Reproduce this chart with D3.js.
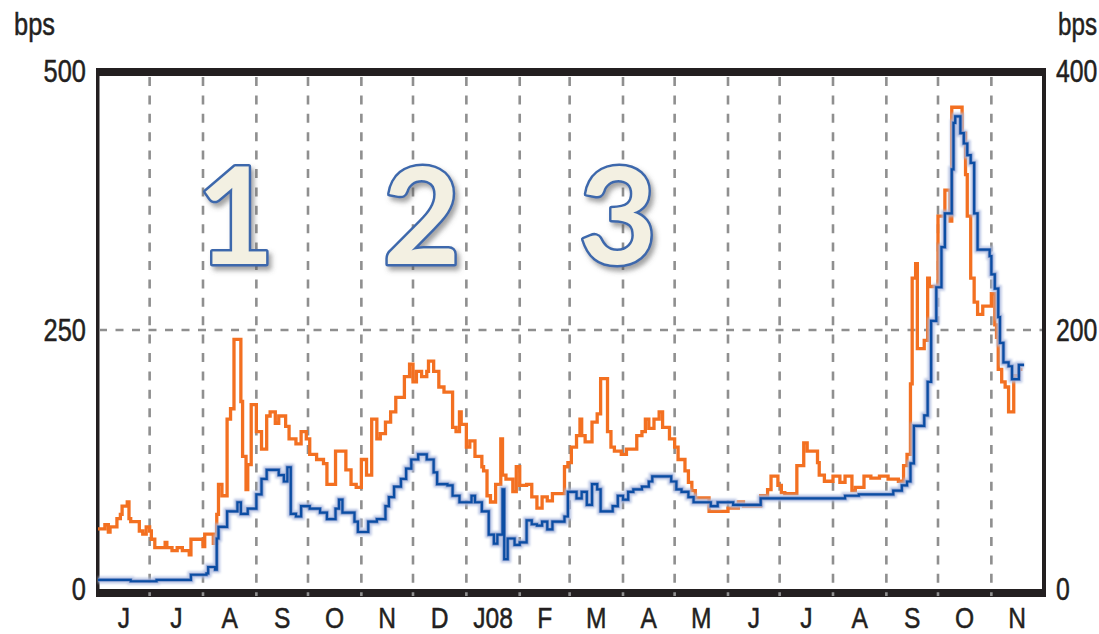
<!DOCTYPE html>
<html><head><meta charset="utf-8">
<script src="https://cdn.jsdelivr.net/npm/d3@7/dist/d3.min.js"></script>
<style>
html,body{margin:0;padding:0;background:#fff;}
svg{display:block;}
</style></head>
<body>
<svg id="chart" width="1099" height="634"></svg>
<script>
// ---------- data ----------
const monthLabels = ["J","J","A","S","O","N","D","J08","F","M","A","M","J","J","A","S","O","N"];
const leftTicks = [0, 250, 500];
const rightTicks = [0, 200, 400];
const leftUnit = "bps";
const rightUnit = "bps";
const panelLabels = ["1", "2", "3"];
const panelDates = ["2007-08-20", "2007-12-06", "2008-03-29"];

// orange series (left axis, bps)
const orangeDates = ["2007-06-01","2007-06-05","2007-06-07","2007-06-08","2007-06-12","2007-06-14","2007-06-15","2007-06-18","2007-06-19","2007-06-20","2007-06-25","2007-06-27","2007-06-29","2007-07-01","2007-07-02","2007-07-04","2007-07-10","2007-07-11","2007-07-14","2007-07-17","2007-07-20","2007-07-24","2007-07-25","2007-08-01","2007-08-02","2007-08-07","2007-08-09","2007-08-10","2007-08-12","2007-08-15","2007-08-17","2007-08-19","2007-08-23","2007-08-24","2007-08-26","2007-08-27","2007-08-29","2007-09-01","2007-09-04","2007-09-07","2007-09-09","2007-09-12","2007-09-14","2007-09-18","2007-09-20","2007-09-24","2007-09-27","2007-09-30","2007-10-02","2007-10-06","2007-10-10","2007-10-12","2007-10-17","2007-10-23","2007-10-26","2007-10-29","2007-11-01","2007-11-04","2007-11-07","2007-11-10","2007-11-12","2007-11-15","2007-11-18","2007-11-21","2007-11-26","2007-11-29","2007-12-01","2007-12-03","2007-12-06","2007-12-09","2007-12-10","2007-12-13","2007-12-16","2007-12-19","2007-12-24","2007-12-26","2007-12-28","2007-12-29","2008-01-01","2008-01-03","2008-01-06","2008-01-10","2008-01-11","2008-01-13","2008-01-15","2008-01-18","2008-01-21","2008-01-22","2008-01-24","2008-01-28","2008-01-30","2008-02-01","2008-02-05","2008-02-08","2008-02-11","2008-02-14","2008-02-17","2008-02-20","2008-02-27","2008-02-29","2008-03-02","2008-03-05","2008-03-07","2008-03-08","2008-03-10","2008-03-14","2008-03-17","2008-03-19","2008-03-23","2008-03-25","2008-03-27","2008-03-31","2008-04-03","2008-04-09","2008-04-12","2008-04-14","2008-04-16","2008-04-19","2008-04-22","2008-04-24","2008-04-28","2008-05-01","2008-05-03","2008-05-07","2008-05-09","2008-05-11","2008-05-13","2008-05-21","2008-06-01","2008-06-07","2008-06-10","2008-06-20","2008-06-24","2008-06-26","2008-06-30","2008-07-02","2008-07-04","2008-07-11","2008-07-15","2008-07-17","2008-07-23","2008-07-24","2008-07-27","2008-08-01","2008-08-05","2008-08-08","2008-08-12","2008-08-14","2008-08-19","2008-08-23","2008-08-28","2008-09-02","2008-09-08","2008-09-11","2008-09-13","2008-09-15","2008-09-16","2008-09-18","2008-09-19","2008-09-23","2008-09-25","2008-09-26","2008-10-01","2008-10-05","2008-10-08","2008-10-09","2008-10-15","2008-10-17","2008-10-18","2008-10-20","2008-10-22","2008-10-24","2008-10-27","2008-11-01","2008-11-03","2008-11-04","2008-11-05","2008-11-07","2008-11-09","2008-11-11","2008-11-14","2008-11-17","2008-11-19"];
const orangeValues = [58,62,55,60,68,72,80,84,68,65,56,53,60,56,48,40,45,40,37,40,37,33,48,41,53,44,72,101,90,164,174,241,181,128,96,120,178,152,135,167,171,160,167,157,145,140,152,145,130,125,121,101,133,115,101,98,125,110,164,145,150,161,171,185,205,217,200,210,205,210,220,210,195,190,156,152,171,159,137,143,128,118,114,90,84,101,145,110,106,94,118,100,101,89,78,89,85,92,118,122,137,148,164,148,142,161,169,203,152,137,133,130,135,148,152,164,155,164,171,156,145,137,125,114,103,95,88,75,78,84,80,90,96,109,100,93,92,119,141,133,122,110,104,109,103,109,95,98,109,107,109,106,104,119,130,198,300,314,232,240,300,292,360,385,355,465,440,400,360,300,277,265,273,285,255,243,212,200,195,171,206,212,212];

// blue series (right axis, bps)
const blueDates = ["2007-06-01","2007-06-20","2007-07-05","2007-07-25","2007-08-03","2007-08-04","2007-08-08","2007-08-09","2007-08-10","2007-08-15","2007-08-21","2007-08-23","2007-08-27","2007-09-01","2007-09-04","2007-09-07","2007-09-14","2007-09-17","2007-09-19","2007-09-21","2007-09-24","2007-09-27","2007-10-02","2007-10-08","2007-10-12","2007-10-17","2007-10-19","2007-10-21","2007-10-28","2007-10-30","2007-11-05","2007-11-10","2007-11-15","2007-11-17","2007-11-20","2007-11-24","2007-11-27","2007-11-30","2007-12-04","2007-12-09","2007-12-13","2007-12-15","2007-12-21","2007-12-24","2007-12-28","2008-01-04","2008-01-06","2008-01-10","2008-01-14","2008-01-17","2008-01-19","2008-01-22","2008-01-23","2008-01-25","2008-01-29","2008-02-01","2008-02-05","2008-02-08","2008-02-11","2008-02-14","2008-02-17","2008-02-20","2008-02-27","2008-02-29","2008-03-05","2008-03-08","2008-03-11","2008-03-14","2008-03-17","2008-03-19","2008-03-26","2008-03-29","2008-04-01","2008-04-04","2008-04-07","2008-04-12","2008-04-16","2008-04-18","2008-04-29","2008-05-02","2008-05-05","2008-05-09","2008-05-12","2008-05-22","2008-05-26","2008-06-04","2008-06-20","2008-08-08","2008-08-16","2008-09-05","2008-09-10","2008-09-13","2008-09-15","2008-09-17","2008-09-23","2008-09-25","2008-09-27","2008-09-30","2008-10-03","2008-10-05","2008-10-09","2008-10-10","2008-10-11","2008-10-14","2008-10-16","2008-10-18","2008-10-20","2008-10-22","2008-10-24","2008-10-31","2008-11-01","2008-11-03","2008-11-05","2008-11-06","2008-11-08","2008-11-11","2008-11-13","2008-11-17","2008-11-20"];
const blueValues = [7,6,7,11,12,17,15,39,48,60,67,58,62,73,85,92,88,83,94,58,56,64,62,59,54,62,69,59,52,44,52,54,64,71,79,85,93,100,104,100,90,81,80,72,67,72,67,60,42,35,42,77,23,39,34,36,53,50,49,52,46,52,56,75,70,75,65,81,77,60,64,72,69,75,77,79,83,87,83,77,75,71,67,64,67,65,70,72,73,76,80,83,97,126,134,160,207,233,264,290,324,360,365,352,344,335,329,290,262,257,243,232,210,190,175,172,162,173,173];

// ---------- drawing ----------
const svg = d3.select("#chart");
const parse = d3.utcParse("%Y-%m-%d");
const X0 = 98, X1 = 1043, Y0 = 589, Y1 = 71;

const x = d3.scaleUtc().domain([parse("2007-06-01"), parse("2008-12-01")]).range([X0, X1]);
const yL = d3.scaleLinear().domain([0, 500]).range([Y0, Y1]);
const yR = d3.scaleLinear().domain([0, 400]).range([Y0, Y1]);

const defs = svg.append("defs");
const f = defs.append("filter").attr("id","shadow").attr("x","-20%").attr("y","-20%").attr("width","150%").attr("height","150%");
f.append("feDropShadow").attr("dx",3).attr("dy",4).attr("stdDeviation",2.5).attr("flood-color","#555").attr("flood-opacity",0.55);
const g2 = defs.append("filter").attr("id","soft");
g2.append("feGaussianBlur").attr("stdDeviation",0.9);

// frame
const frameCol = "#231f20";
svg.append("rect").attr("x",96).attr("y",68).attr("width",950).attr("height",8).attr("fill",frameCol);
svg.append("rect").attr("x",96).attr("y",589).attr("width",950).attr("height",8).attr("fill",frameCol);
svg.append("rect").attr("x",96).attr("y",68).attr("width",3.5).attr("height",529).attr("fill",frameCol);
svg.append("rect").attr("x",1042).attr("y",68).attr("width",4).attr("height",529).attr("fill",frameCol);

// vertical month gridlines
const monthStarts = d3.utcMonths(parse("2007-07-01"), parse("2008-12-01"));
svg.append("g").selectAll("line").data(monthStarts).join("line")
  .attr("x1", d => x(d)).attr("x2", d => x(d))
  .attr("y1", 72).attr("y2", 596)
  .attr("stroke","#8f8f8f").attr("stroke-width",2.6)
  .attr("stroke-dasharray","9,9.4").attr("stroke-dashoffset",-5);

// horizontal gridline at 250
svg.append("line")
  .attr("x1", 99).attr("x2", 1042).attr("y1", yL(250)).attr("y2", yL(250))
  .attr("stroke","#8f8f8f").attr("stroke-width",2.4).attr("stroke-dasharray","8,8.5");

// big panel numbers
svg.append("g").selectAll("text").data(panelLabels).join("text")
  .attr("x", (d,i) => x(parse(panelDates[i])))
  .attr("y", 264)
  .attr("text-anchor","middle")
  .attr("font-family","Lato, 'Open Sans', sans-serif")
  .attr("font-weight",700)
  .attr("font-size",134)
  .attr("fill","#f3f0e2")
  .attr("stroke","#3d68ac")
  .attr("stroke-width",5)
  .attr("stroke-linejoin","round")
  .attr("paint-order","stroke")
  .attr("filter","url(#shadow)")
  .text(d => d);

// series
const rows = (dates, vals) => dates.map((d,i) => ({date: parse(d), v: vals[i]}));
const orange = rows(orangeDates, orangeValues);
const blue = rows(blueDates, blueValues);

const lineL = d3.line().x(d => x(d.date)).y(d => yL(d.v)).curve(d3.curveStepAfter);
const lineR = d3.line().x(d => x(d.date)).y(d => yR(d.v)).curve(d3.curveStepAfter);

svg.append("path").datum(orange).attr("d", lineL)
  .attr("fill","none").attr("stroke","#f37021").attr("stroke-width",3.3).attr("stroke-linejoin","miter");

svg.append("path").datum(blue).attr("d", lineR)
  .attr("fill","none").attr("stroke","#aebce0").attr("stroke-width",7).attr("opacity",0.8).attr("filter","url(#soft)");
svg.append("path").datum(blue).attr("d", lineR)
  .attr("fill","none").attr("stroke","#6f89c4").attr("stroke-width",3.6).attr("opacity",0.75);
svg.append("path").datum(blue).attr("d", lineR)
  .attr("fill","none").attr("stroke","#0b4da3").attr("stroke-width",2.2);

// text helper: narrow look via horizontal scaling of Liberation Sans
const txtCol = "#231f20";
function narrowText(sel, anchor, size) {
  return sel.attr("text-anchor", anchor)
    .attr("font-family","'Liberation Sans', Arial, sans-serif")
    .attr("font-size", size || 31)
    .attr("fill",txtCol)
    .attr("stroke",txtCol).attr("stroke-width",0.5);
}

svg.append("g").selectAll("text").data(leftTicks).join("text")
  .attr("transform", d => `translate(86,${yL(d)}) scale(0.82,1)`)
  .attr("dy","0.36em")
  .call(narrowText, "end").text(d => d);
svg.append("g").selectAll("text").data(rightTicks).join("text")
  .attr("transform", d => `translate(1056,${yR(d)}) scale(0.8,1)`)
  .attr("dy","0.36em")
  .call(narrowText, "start").text(d => d);

svg.append("text").attr("transform","translate(14,35) scale(0.82,1)")
  .call(narrowText, "start").text(leftUnit);
svg.append("text").attr("transform","translate(1058,35) scale(0.78,1)")
  .call(narrowText, "start").text(rightUnit);

// month labels at mid-month
const allMonths = d3.utcMonths(parse("2007-06-01"), parse("2008-12-01"));
svg.append("g").selectAll("text").data(allMonths).join("text")
  .attr("transform", d => `translate(${(x(d) + x(d3.utcMonth.offset(d,1)))/2},628) scale(0.82,1)`)
  .call(narrowText, "middle", 30).text((d,i) => monthLabels[i]);
</script>
</body></html>
